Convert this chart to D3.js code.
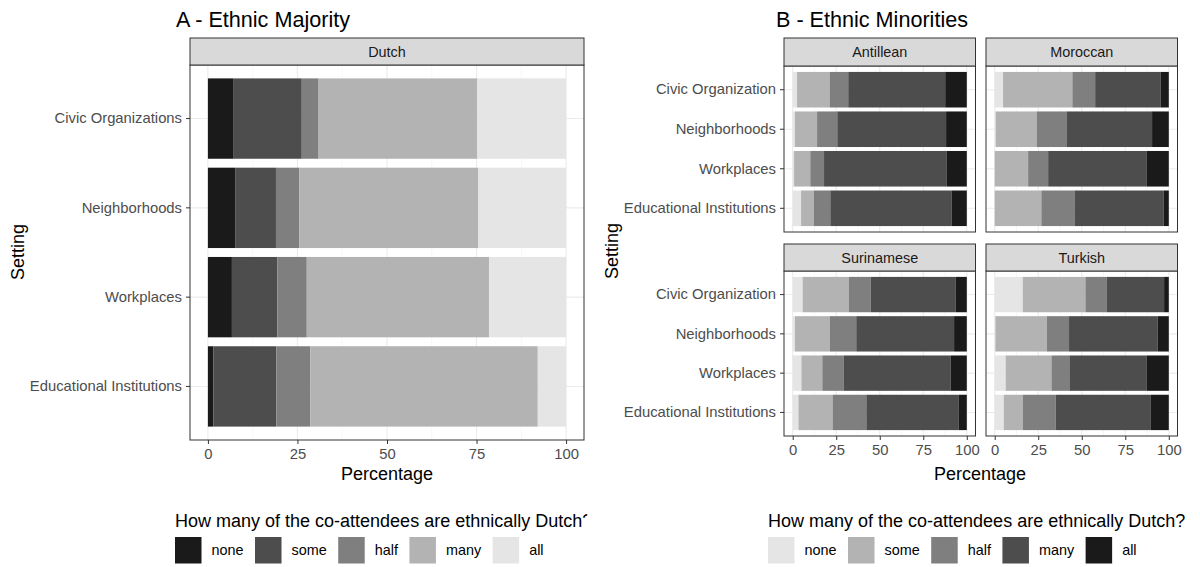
<!DOCTYPE html>
<html>
<head>
<meta charset="utf-8">
<script src="https://cdn.jsdelivr.net/npm/d3@7"></script>
<style>
  body { margin: 0; background: #fff; }
  text { font-family: "Liberation Sans", Arial, Helvetica, sans-serif; }
</style>
</head>
<body>
<div id="chart"></div>
<script>
// categories
const settingsA = ["Civic Organizations", "Neighborhoods", "Workplaces", "Educational Institutions"];
const settingsB = ["Civic Organization", "Neighborhoods", "Workplaces", "Educational Institutions"];
const levels = ["none", "some", "half", "many", "all"];
const groups = ["Antillean", "Moroccan", "Surinamese", "Turkish"];
const xTicks = [0, 25, 50, 75, 100];
const minorTicks = [12.5, 37.5, 62.5, 87.5];

// percentages per setting, in order none, some, half, many, all
const dutch = [
  [7.2, 19.0, 4.7, 44.3, 24.8],
  [7.6, 11.4, 6.5, 50.0, 24.5],
  [6.7, 12.7, 8.2, 50.9, 21.5],
  [1.5, 17.6, 9.5, 63.5, 7.9]
];
const antillean = [
  [2.5, 18.7, 10.7, 55.7, 12.4],
  [1.3, 12.7, 11.6, 62.5, 11.9],
  [0.8, 9.3, 7.9, 70.3, 11.7],
  [4.8, 7.4, 9.4, 69.6, 8.8]
];
const moroccan = [
  [4.8, 39.8, 13.1, 37.7, 4.6],
  [0.6, 23.5, 17.1, 49.2, 9.6],
  [0.0, 19.2, 11.5, 56.7, 12.6],
  [0.0, 26.8, 19.0, 51.3, 2.9]
];
const surinamese = [
  [5.7, 26.6, 12.6, 48.8, 6.3],
  [1.3, 20.1, 15.1, 56.2, 7.3],
  [5.0, 12.0, 12.4, 61.4, 9.2],
  [3.3, 19.6, 19.4, 52.9, 4.8]
];
const turkish = [
  [16.1, 36.0, 12.1, 33.1, 2.7],
  [0.4, 29.5, 12.8, 50.8, 6.5],
  [6.3, 26.3, 10.3, 44.5, 12.6],
  [5.2, 10.9, 19.0, 54.6, 10.3]
];

const greysA = ["#1a1a1a", "#4d4d4d", "#7f7f7f", "#b3b3b3", "#e5e5e5"];
const greysB = ["#e5e5e5", "#b3b3b3", "#7f7f7f", "#4d4d4d", "#1a1a1a"];

const width = 1200, height = 567;
const svg = d3.select("#chart").append("svg")
  .attr("width", width)
  .attr("height", height);

// one facet: strip + panel + bars + axes
function drawFacet(o) {
  const g = svg.append("g");
  const pTop = o.top + o.stripH;

  const x = d3.scaleLinear().domain([-5, 105]).range([o.left, o.left + o.width]);
  const y = d3.scaleBand().domain(o.cats)
    .range([pTop, pTop + o.height])
    .paddingInner(0.1).paddingOuter(0.15);

  // grid
  g.selectAll(".minor").data(minorTicks).join("line")
    .attr("x1", d => x(d)).attr("x2", d => x(d))
    .attr("y1", pTop).attr("y2", pTop + o.height)
    .attr("stroke", "#f2f2f2").attr("stroke-width", 0.6);
  g.selectAll(".major").data(xTicks).join("line")
    .attr("x1", d => x(d)).attr("x2", d => x(d))
    .attr("y1", pTop).attr("y2", pTop + o.height)
    .attr("stroke", "#ebebeb").attr("stroke-width", 1.1);
  g.selectAll(".hgrid").data(o.cats).join("line")
    .attr("x1", o.left).attr("x2", o.left + o.width)
    .attr("y1", d => y(d) + y.bandwidth() / 2).attr("y2", d => y(d) + y.bandwidth() / 2)
    .attr("stroke", "#ebebeb").attr("stroke-width", 1.1);

  // stacked bars
  const rows = o.cats.map((c, i) => {
    const r = { cat: c };
    levels.forEach((l, j) => r[l] = o.values[i][j]);
    return r;
  });
  const series = d3.stack().keys(levels)(rows);
  g.selectAll(".layer").data(series).join("g")
    .attr("fill", (d, i) => o.colours[i])
    .selectAll("rect").data(d => d).join("rect")
      .attr("x", d => x(d[0]))
      .attr("width", d => Math.max(0, x(d[1]) - x(d[0])))
      .attr("y", d => y(d.data.cat))
      .attr("height", y.bandwidth());

  // panel border
  g.append("rect")
    .attr("x", o.left).attr("y", pTop)
    .attr("width", o.width).attr("height", o.height)
    .attr("fill", "none").attr("stroke", "#333").attr("stroke-width", 1);

  // strip
  g.append("rect")
    .attr("x", o.left).attr("y", o.top)
    .attr("width", o.width).attr("height", o.stripH)
    .attr("fill", "#d9d9d9").attr("stroke", "#333").attr("stroke-width", 1);
  g.append("text")
    .attr("x", o.left + o.width / 2).attr("y", o.top + o.stripH / 2)
    .attr("dy", "0.35em").attr("text-anchor", "middle")
    .attr("font-size", 14.4).attr("fill", "#1a1a1a")
    .text(o.name);

  if (o.showX) {
    const ax = g.append("g")
      .attr("transform", "translate(0," + (pTop + o.height) + ")")
      .call(d3.axisBottom(x).tickValues(xTicks).tickSize(4).tickPadding(4));
    ax.select(".domain").remove();
    ax.selectAll("line").attr("stroke", "#333");
    ax.selectAll("text").attr("font-size", 14.8).attr("fill", "#4d4d4d")
      .style("font-family", "Liberation Sans, Arial, sans-serif");
  }
  if (o.showY) {
    const ay = g.append("g")
      .attr("transform", "translate(" + o.left + ",0)")
      .call(d3.axisLeft(y).tickSize(4).tickPadding(4));
    ay.select(".domain").remove();
    ay.selectAll("line").attr("stroke", "#333");
    ay.selectAll("text").attr("font-size", 14.8).attr("fill", "#4d4d4d")
      .style("font-family", "Liberation Sans, Arial, sans-serif");
  }
}

// legend row
function drawLegend(x0, title, colours, clipQ) {
  const g = svg.append("g");
  const t = g.append("text")
    .attr("x", x0).attr("y", 527)
    .attr("font-size", 18).attr("fill", "#000")
    .text(title);
  if (clipQ) {
    // the reference cuts the question mark off, only the top of its hook shows
    const w = t.node().getComputedTextLength();
    svg.append("clipPath").attr("id", "qclip")
      .append("rect").attr("x", x0 + w).attr("y", 500).attr("width", 5).attr("height", 18);
    g.append("text")
      .attr("x", x0 + w).attr("y", 527)
      .attr("font-size", 18).attr("fill", "#000")
      .attr("clip-path", "url(#qclip)")
      .text("?");
  }
  let cx = x0;
  levels.forEach((l, i) => {
    g.append("rect")
      .attr("x", cx).attr("y", 537)
      .attr("width", 26.5).attr("height", 26.5)
      .attr("fill", colours[i]);
    const lt = g.append("text")
      .attr("x", cx + 26.5 + 10).attr("y", 550).attr("dy", "0.35em")
      .attr("font-size", 14.4).attr("fill", "#000")
      .text(l);
    cx = cx + 26.5 + 10 + lt.node().getComputedTextLength() + 11.5;
  });
}

// ---- Panel A ----
svg.append("text").attr("x", 176).attr("y", 27)
  .attr("font-size", 21.6).attr("fill", "#000")
  .text("A - Ethnic Majority");

drawFacet({ left: 190, top: 38, width: 394, stripH: 27, height: 375,
  name: "Dutch", cats: settingsA, values: dutch, colours: greysA,
  showX: true, showY: true });

svg.append("text")
  .attr("transform", "translate(24,252) rotate(-90)")
  .attr("text-anchor", "middle").attr("font-size", 18).text("Setting");
svg.append("text").attr("x", 387).attr("y", 480)
  .attr("text-anchor", "middle").attr("font-size", 18).text("Percentage");

drawLegend(175, "How many of the co-attendees are ethnically Dutch", greysA, true);

// ---- Panel B ----
svg.append("text").attr("x", 776).attr("y", 27)
  .attr("font-size", 21.6).attr("fill", "#000")
  .text("B - Ethnic Minorities");

const facetData = [antillean, moroccan, surinamese, turkish];
const colLeft = [784, 986];
const rowTop = [38, 244];
groups.forEach((name, i) => {
  const col = i % 2, row = Math.floor(i / 2);
  drawFacet({ left: colLeft[col], top: rowTop[row], width: 191.5,
    stripH: row === 0 ? 28 : 27, height: row === 0 ? 166 : 165,
    name: name, cats: settingsB, values: facetData[i], colours: greysB,
    showX: row === 1, showY: col === 0 });
});

svg.append("text")
  .attr("transform", "translate(618,251) rotate(-90)")
  .attr("text-anchor", "middle").attr("font-size", 18).text("Setting");
svg.append("text").attr("x", 980).attr("y", 480)
  .attr("text-anchor", "middle").attr("font-size", 18).text("Percentage");

drawLegend(768, "How many of the co-attendees are ethnically Dutch?", greysB, false);
</script>
</body>
</html>
